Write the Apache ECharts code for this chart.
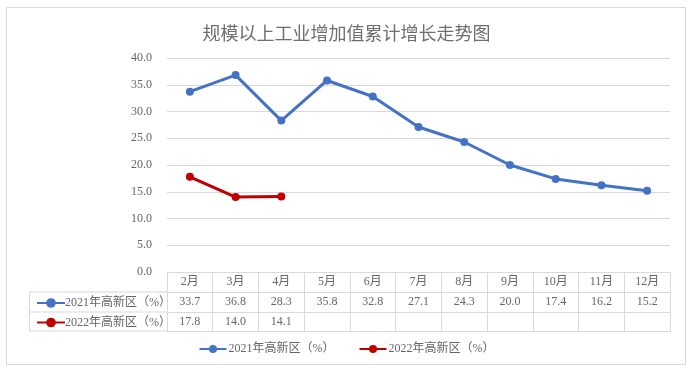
<!DOCTYPE html>
<html><head><meta charset="utf-8">
<script src="https://cdn.jsdelivr.net/npm/echarts@6/dist/echarts.min.js"></script>
<style>html,body{margin:0;padding:0;background:#fff}#c{width:693px;height:374px}</style>
</head><body><div id="c"></div>
<script>
const titleText = '规模以上工业增加值累计增长走势图';
const categories = ['2月','3月','4月','5月','6月','7月','8月','9月','10月','11月','12月'];
const seriesNames = ['2021年高新区（%）','2022年高新区（%）'];
const values2021 = [33.7, 36.8, 28.3, 35.8, 32.8, 27.1, 24.3, 20.0, 17.4, 16.2, 15.2];
const values2022 = [17.8, 14.0, 14.1];
const yTicks = [0, 5, 10, 15, 20, 25, 30, 35, 40];

const serif = "'Liberation Serif','Noto Sans CJK SC',serif";
const txt = '#666666';
const bd = '#d9d9d9';
const colors = ['#4472C4', '#C00000'];

const chart = echarts.init(document.getElementById('c'));
function tableAxis(offset, fmt, showTick) {
  return {
    type: 'category', data: categories, gridIndex: 0, position: 'bottom', offset: offset,
    boundaryGap: true,
    axisLine: {show: true, lineStyle: {color: bd, width: 1}},
    axisTick: {show: showTick, interval: 0, length: 20, inside: false, lineStyle: {color: bd, width: 1}},
    axisLabel: {show: !!fmt, interval: 0, margin: 10, verticalAlign: 'middle', color: txt, fontSize: 12,
      fontFamily: serif, formatter: fmt || undefined},
    splitLine: {show: false}
  };
}
const option = {
  backgroundColor: '#fff',
  animation: false,
  title: {text: titleText, left: 'center', top: 19,
    textStyle: {fontSize: 18, fontWeight: 'normal', color: '#6e6e6e', fontFamily: "'Noto Sans CJK SC',sans-serif"}},
  grid: {left: 167, right: 23, top: 58, bottom: 102, containLabel: false},
  legend: [
    {data: seriesNames, bottom: 14, left: 'center', itemWidth: 27, itemHeight: 10, itemGap: 24,
     textStyle: {fontSize: 12, color: txt, fontFamily: serif, padding: [0,0,0,-3]}},
    {data: seriesNames, orient: 'vertical', left: 31, top: 292, itemWidth: 28, itemHeight: 12, itemGap: 7.5,
     textStyle: {fontSize: 12, color: txt, fontFamily: serif, lineHeight: 12, padding: [0,0,0,-5]}}
  ],
  xAxis: [
    tableAxis(0, (v) => v, true),
    tableAxis(20, (v, i) => values2021[i] != null ? values2021[i].toFixed(1) : '', true),
    tableAxis(40, (v, i) => values2022[i] != null ? values2022[i].toFixed(1) : '', true),
    tableAxis(59, null, false)
  ],
  yAxis: {
    type: 'value', min: yTicks[0], max: yTicks[yTicks.length - 1], interval: yTicks[1] - yTicks[0],
    axisLine: {show: false}, axisTick: {show: false},
    axisLabel: {margin: 15, color: txt, fontSize: 12, fontFamily: serif, formatter: (v) => v.toFixed(1)},
    splitLine: {lineStyle: {color: bd, width: 1}}
  },
  series: [
    {name: seriesNames[0], type: 'line', xAxisIndex: 0, data: values2021, symbol: 'circle', symbolSize: 8,
     lineStyle: {width: 3, color: colors[0]}, itemStyle: {color: colors[0]}},
    {name: seriesNames[1], type: 'line', xAxisIndex: 0, data: values2022, symbol: 'circle', symbolSize: 8,
     lineStyle: {width: 3, color: colors[1]}, itemStyle: {color: colors[1]}}
  ],
  graphic: [
    {type: 'rect', shape: {x: 6.5, y: 7.5, width: 679, height: 357}, style: {fill: null, stroke: bd, lineWidth: 1}, silent: true, z: -1},
    {type: 'line', shape: {x1: 29.5, y1: 292, x2: 167, y2: 292}, style: {stroke: bd, lineWidth: 1}},
    {type: 'line', shape: {x1: 29.5, y1: 312, x2: 167, y2: 312}, style: {stroke: bd, lineWidth: 1}},
    {type: 'line', shape: {x1: 29.5, y1: 331, x2: 167, y2: 331}, style: {stroke: bd, lineWidth: 1}},
    {type: 'line', shape: {x1: 29.5, y1: 292, x2: 29.5, y2: 331}, style: {stroke: bd, lineWidth: 1}}
  ]
};
chart.setOption(option);
</script></body></html>
